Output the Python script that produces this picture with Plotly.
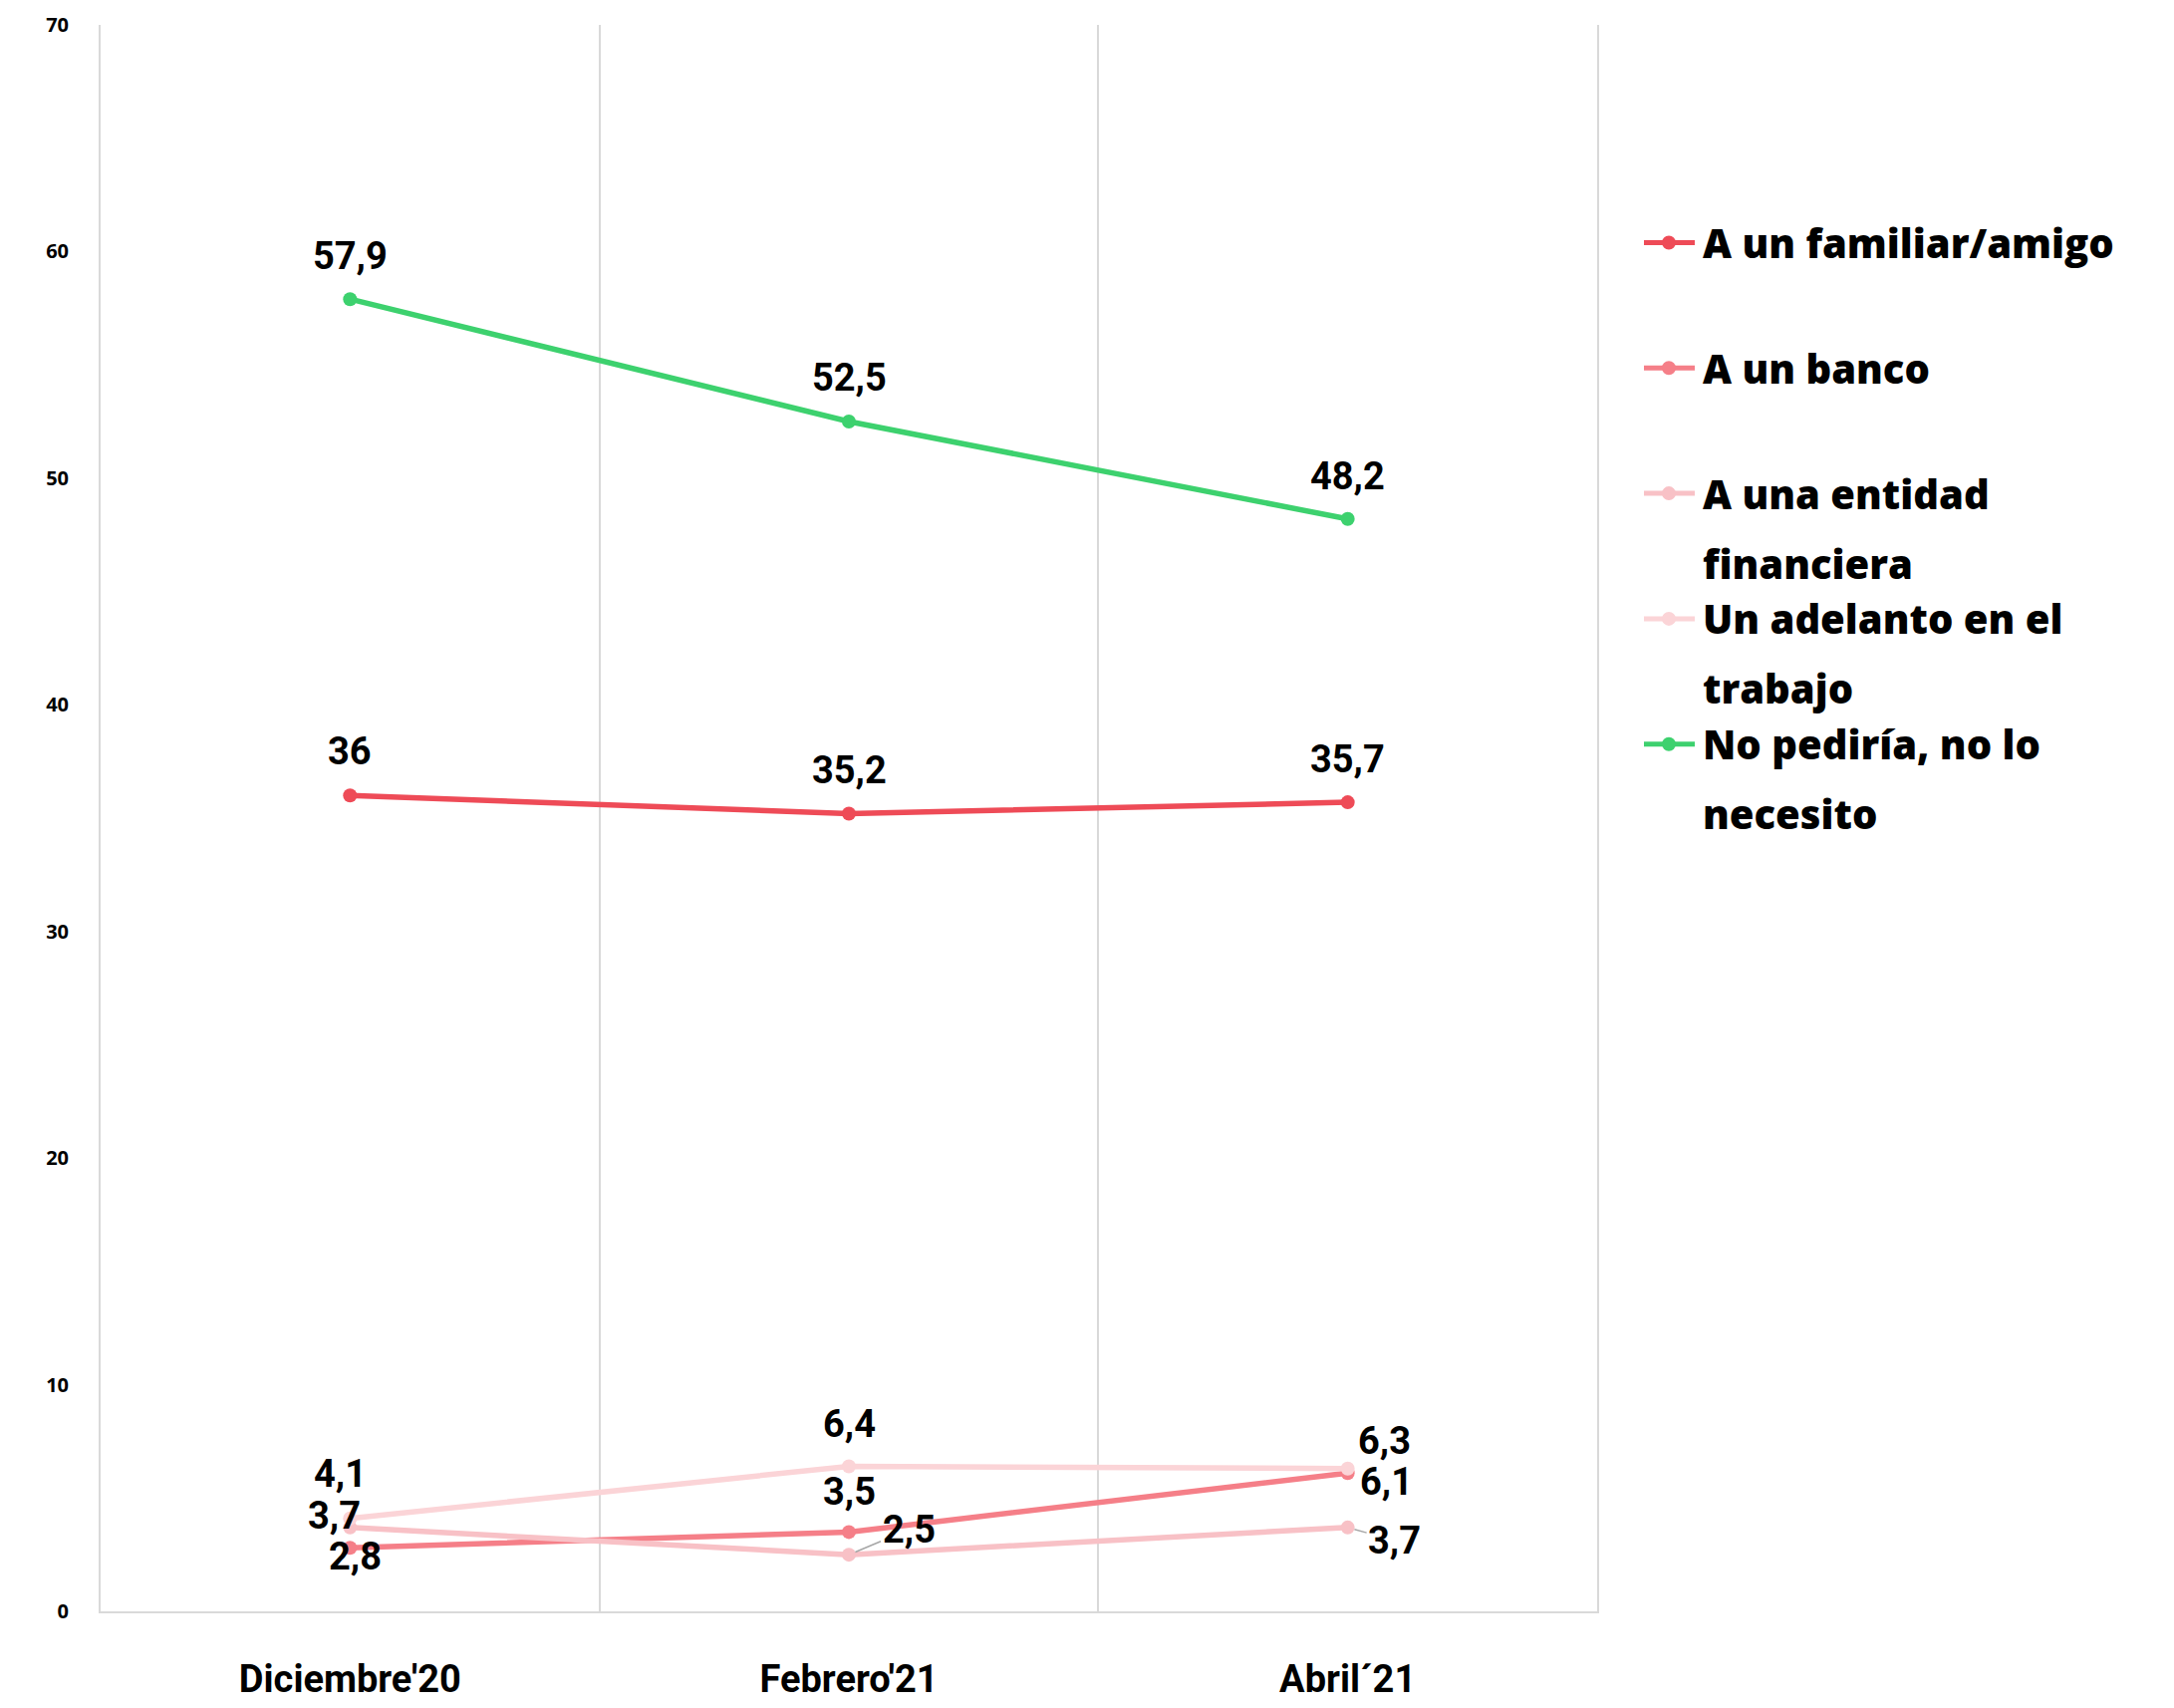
import plotly.graph_objects as go

# ---------------- data ----------------
categories = ["Diciembre'20", "Febrero'21", "Abril´21"]
series_names = [
    "A un familiar/amigo",
    "A un banco",
    "A una entidad financiera",
    "Un adelanto en el trabajo",
    "No pediría, no lo necesito",
]
familiar = [36, 35.2, 35.7]
banco = [2.8, 3.5, 6.1]
entidad = [3.7, 2.5, 3.7]
adelanto = [4.1, 6.4, 6.3]
no_pediria = [57.9, 52.5, 48.2]
y_ticks = [0, 10, 20, 30, 40, 50, 60, 70]
legend_lines = [
    ["A un familiar/amigo"],
    ["A un banco"],
    ["A una entidad", "financiera"],
    ["Un adelanto en el", "trabajo"],
    ["No pediría, no lo", "necesito"],
]

# ---------------- styles ----------------
colors = ["#EE4B57", "#F57F88", "#F8C1C6", "#FBD4D7", "#3DD16E"]
# label offsets in pixels (dx, dy screen-down)
label_offsets = [
    [(0, -44), (0, -43), (0, -43)],
    [(5, 9), (0, -40), (39, 9)],
    [(-16, -12), (60, -25), (47, 13)],
    [(-10, -45), (0, -42), (37, -28)],
    [(0, -43), (0, -44), (0, -43)],
]
leader = [False, False, True, False, False]

PAGE_W, PAGE_H = 2182, 1714
OFF = 8  # default body margin of the html page
W, H = PAGE_W - 2 * OFF, PAGE_H - 2 * OFF
# plot area in page pixels
L_pg, R_pg, T_pg, B_pg = 101, 1603, 25, 1617
L, R, T, B = L_pg - OFF, R_pg - OFF, T_pg - OFF, B_pg - OFF
GRID = "#d9d9d9"

values = [familiar, banco, entidad, adelanto, no_pediria]
xs = list(range(len(categories)))

fig = go.Figure()
for name, vals, col in zip(series_names, values, colors):
    fig.add_trace(go.Scatter(
        x=xs, y=vals, name=name, mode="lines+markers",
        line=dict(color=col, width=5.5),
        marker=dict(color=col, size=14),
        showlegend=False, hoverinfo="skip",
    ))

lab_font = dict(family="Roboto, Arial, sans-serif", size=38, color="black", weight="bold")
for vals, offs, has_leader in zip(values, label_offsets, leader):
    for i, v in enumerate(vals):
        txt = (f"{v:g}").replace(".", ",")
        dx, dy = offs[i]
        if has_leader:
            fig.add_annotation(x=xs[i], y=v, text=txt, showarrow=True,
                               ax=dx, ay=dy, arrowhead=0, arrowwidth=1.5,
                               arrowcolor="#a6a6a6", standoff=7, font=lab_font)
        else:
            fig.add_annotation(x=xs[i], y=v, text=txt, showarrow=False,
                               xshift=dx, yshift=-dy, font=lab_font)

# ---------------- manual legend ----------------
def px_x(p):  # page px -> paper
    return (p - OFF - L) / (R - L)

def px_y(p):
    return (B - (p - OFF)) / (B - T)

leg_font = dict(family="Open Sans, Noto Sans, sans-serif", size=40, color="black", weight=800)
first_y = 243.5
step = 125.8
line_gap = 70
for k, (lines, col) in enumerate(zip(legend_lines, colors)):
    cy = first_y + k * step
    fig.add_shape(type="line", xref="paper", yref="paper",
                  x0=px_x(1650), x1=px_x(1701), y0=px_y(cy), y1=px_y(cy),
                  line=dict(color=col, width=5))
    fig.add_shape(type="circle", xref="paper", yref="paper",
                  x0=px_x(1675 - 7), x1=px_x(1675 + 7), y0=px_y(cy + 7), y1=px_y(cy - 7),
                  line=dict(color=col, width=0), fillcolor=col)
    for j, t in enumerate(lines):
        fig.add_annotation(xref="paper", yref="paper", x=px_x(1707), y=px_y(cy + j * line_gap),
                           text=t, showarrow=False, xanchor="left", yanchor="middle",
                           font=leg_font)

fig.update_layout(
    width=W, height=H,
    margin=dict(l=L, r=W - R, t=T, b=H - B, autoexpand=False),
    paper_bgcolor="white", plot_bgcolor="white",
    showlegend=False,
    xaxis=dict(
        range=[-0.5, 2.5], tickvals=xs, ticktext=categories,
        showgrid=False, zeroline=False, showline=True, linecolor=GRID, linewidth=2,
        ticks="", ticklabelstandoff=33, automargin=False,
        tickfont=dict(family="Roboto, Arial, sans-serif", size=38, color="black", weight="bold"),
        minor=dict(tickvals=[0.5, 1.5], showgrid=True, gridcolor=GRID, gridwidth=2, ticks=""),
    ),
    yaxis=dict(
        range=[0, 70], tickvals=y_ticks, automargin=False,
        showgrid=False, zeroline=False, showline=True, linecolor=GRID, linewidth=2,
        mirror=True, ticks="", ticklabelstandoff=26,
        tickfont=dict(family="Open Sans, Noto Sans, sans-serif", size=20, color="black", weight="bold"),
    ),
)

fig.write_html("out.html")
